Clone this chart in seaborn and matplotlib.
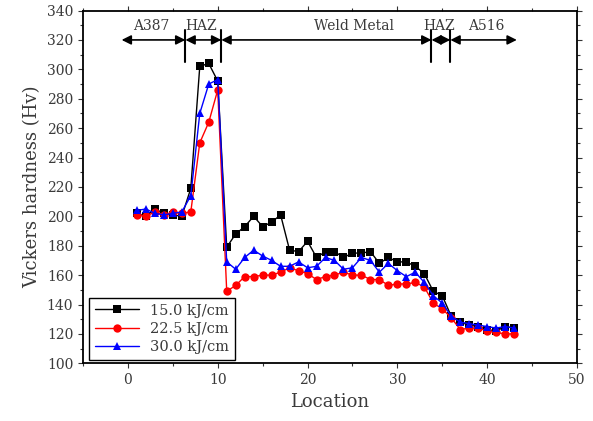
import numpy as np
import pandas as pd
import matplotlib
matplotlib.use('Agg')
import matplotlib.pyplot as plt
import seaborn as sns

# Hardness profiles (43 points, location 1..43)
location = list(range(1, 44))
hv_150 = [202, 200, 205, 202, 201, 200, 219, 302, 304, 292,
          179, 188, 193, 200, 193, 196, 201, 177, 176, 183,
          172, 176, 176, 172, 175, 175, 176, 168, 172, 169,
          169, 166, 161, 149, 146, 132, 128, 126, 125, 123,
          122, 125, 124]
hv_225 = [201, 200, 203, 201, 203, 202, 203, 250, 264, 286,
          149, 153, 159, 159, 160, 160, 162, 165, 163, 161,
          157, 159, 160, 162, 160, 160, 157, 157, 153, 154,
          154, 155, 152, 141, 137, 131, 123, 124, 124, 122,
          121, 120, 120]
hv_300 = [204, 205, 202, 201, 202, 203, 214, 270, 290, 293,
          169, 164, 172, 177, 173, 170, 166, 166, 169, 165,
          166, 172, 170, 164, 165, 172, 170, 162, 168, 163,
          159, 162, 155, 146, 141, 132, 128, 127, 126, 125,
          124, 125, 124]
series_names = ['15.0 kJ/cm', '22.5 kJ/cm', '30.0 kJ/cm']

# Zone boundaries and labels along the top
zone_edges = [-0.7, 6.4, 10.4, 33.8, 35.9, 43.3]
zone_labels = ['A387', 'HAZ', 'Weld Metal', 'HAZ', 'A516']
zone_label_x = [2.6, 8.1, 25.2, 34.7, 39.9]

df = pd.DataFrame({
    'Location': location * 3,
    'Hv': hv_150 + hv_225 + hv_300,
    'Heat input': [series_names[0]] * 43 + [series_names[1]] * 43 + [series_names[2]] * 43,
})

txt = '#3a3a3a'
sns.set_style('ticks')
plt.rcParams['font.family'] = ['DejaVu Serif']

fig = plt.figure(figsize=(5.93, 4.21), dpi=100)
ax = fig.add_axes([0.140, 0.137, 0.833, 0.838])

sns.lineplot(data=df, x='Location', y='Hv', hue='Heat input', style='Heat input',
             palette=['black', 'red', 'blue'], markers=['s', 'o', '^'], dashes=False,
             markersize=6, markeredgewidth=0, linewidth=1, ax=ax)

ax.set_xlim(-5, 50)
ax.set_ylim(100, 340)
ax.set_xticks(range(0, 51, 10))
ax.set_xticks(range(-5, 51, 5), minor=True)
ax.set_yticks(range(100, 341, 20))
ax.set_yticks(range(100, 341, 10), minor=True)
ax.tick_params(which='both', direction='out', top=True, right=True, labelsize=10,
               color='#333333', labelcolor=txt, width=0.8)
ax.tick_params(which='major', length=3.5)
ax.tick_params(which='minor', length=2)
for sp in ax.spines.values():
    sp.set_linewidth(1.3)
    sp.set_color('black')

ax.set_xlabel('Location', fontsize=13, color=txt)
ax.set_ylabel('Vickers hardness (Hv)', fontsize=13, color=txt)

# zone annotations
y_arrow = 320
for a, b in zip(zone_edges[:-1], zone_edges[1:]):
    ax.annotate('', xy=(a, y_arrow), xytext=(b, y_arrow),
                arrowprops=dict(arrowstyle='<|-|>', color='black', lw=1.2,
                                mutation_scale=14, shrinkA=0, shrinkB=0))
for e in zone_edges[1:-1]:
    ax.plot([e, e], [305, 327], color='black', lw=1.5)
for lab, lx in zip(zone_labels, zone_label_x):
    ax.text(lx, 325, lab, ha='center', va='bottom', fontsize=10, color=txt)

leg = ax.legend(loc='lower left', bbox_to_anchor=(0.012, 0.009), borderaxespad=0,
                fontsize=10.5, fancybox=False, framealpha=1, edgecolor='black',
                handlelength=3, labelspacing=0.3, title=None)
leg.get_frame().set_linewidth(1)
for t in leg.get_texts():
    t.set_color(txt)

fig.savefig('out.png', dpi=100)
